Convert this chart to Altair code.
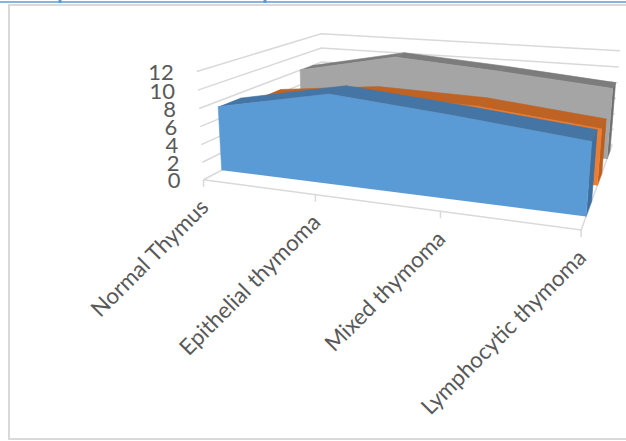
import altair as alt
import numpy as np
import pandas as pd

categories = ["Normal Thymus", "Epithelial thymoma", "Mixed thymoma", "Lymphocytic thymoma"]
blue_values = [7.4, 9.9, 8.8, 7.5]
orange_values = [6.5, 7.9, 7.6, 6.3]
gray_values = [8.0, 10.6, 9.7, 8.6]
value_ticks = [0, 2, 4, 6, 8, 10, 12]

BLUE_DEPTH = (0.12, 0.27)
ORANGE_DEPTH = (0.44, 0.59)
GRAY_DEPTH = (0.78, 0.90)

# Perspective camera: the eight corners of the chart box (category, depth, value) on screen.
box_points = [
    ((0, 0, 0), (204, 180)), ((3, 0, 0), (582, 229)),
    ((0, 1, 0), (322, 116)), ((3, 1, 0), (612, 146)),
    ((0, 0, 12), (196, 72)), ((3, 0, 12), (590, 103)),
    ((0, 1, 12), (322, 34)), ((3, 1, 12), (620, 50)),
]


def fit_camera(points):
    rows, rhs = [], []
    for (c, d, v), (sx, sy) in points:
        p = [c, d, v, 1]
        rows.append(p + [0, 0, 0, 0] + [-sx * c, -sx * d, -sx * v])
        rhs.append(sx)
        rows.append([0, 0, 0, 0] + p + [-sy * c, -sy * d, -sy * v])
        rhs.append(sy)
    m = np.linalg.lstsq(np.array(rows, float), np.array(rhs, float), rcond=None)[0]
    return np.append(m, 1.0).reshape(3, 4)


CAMERA = fit_camera(box_points)


def project(c, d, v):
    u = CAMERA @ np.array([c, d, v, 1.0])
    return u[0] / u[2], u[1] / u[2]


X = alt.X("sx:Q", scale=alt.Scale(domain=[0, 626], nice=False, zero=False), axis=None)
Y = alt.Y("sy:Q", scale=alt.Scale(domain=[441, 0], nice=False, zero=False), axis=None)


def frame(points):
    rows = [{"sx": p[0], "sy": p[1], "i": i} for i, p in enumerate(points)]
    return pd.DataFrame(rows)


def polygon(corners, color):
    df = frame([project(*c) for c in corners])
    return alt.Chart(df).mark_line(
        fill=color, stroke=color, strokeWidth=0.6, interpolate="linear"
    ).encode(x=X, y=Y, order="i:Q")


def polyline(corners, color="#D9D9D9", width=1.5):
    df = frame([project(*c) for c in corners])
    return alt.Chart(df).mark_line(color=color, strokeWidth=width).encode(x=X, y=Y, order="i:Q")


def screen_line(points, color, width):
    return alt.Chart(frame(points)).mark_line(color=color, strokeWidth=width).encode(x=X, y=Y, order="i:Q")


def ribbon(values, depth, front, top, side):
    d0, d1 = depth
    n = len(values)
    parts = [polygon([(n - 1, d0, 0), (n - 1, d1, 0), (n - 1, d1, values[-1]), (n - 1, d0, values[-1])], side)]
    for i in range(n - 1):
        parts.append(polygon([(i, d0, values[i]), (i + 1, d0, values[i + 1]),
                              (i + 1, d1, values[i + 1]), (i, d1, values[i])], top))
    outline = [(0, d0, 0)] + [(i, d0, v) for i, v in enumerate(values)] + [(n - 1, d0, 0)]
    parts.append(polygon(outline, front))
    return parts


layers = []

# Chart frame and the selection line along the top edge
layers.append(screen_line([(9, 440), (9, 5), (626, 5)], "#D9D9D9", 2))
layers.append(screen_line([(9, 439), (626, 439)], "#D9D9D9", 2))
layers.append(screen_line([(0, 2), (626, 2)], "#5B9BD5", 1.6))
for hx in (60, 265):
    layers.append(screen_line([(hx, 0), (hx, 3)], "#5B9BD5", 3))

# Walls and floor
for v in value_ticks:
    layers.append(polyline([(0, 0, v), (0, 1, v), (3, 1, v)]))
layers.append(polyline([(0, 0, 0), (3, 0, 0), (3, 1, 0)]))
for i in range(len(categories)):
    x0, y0 = project(i, 0, 0)
    layers.append(screen_line([(x0, y0), (x0, y0 + 7)], "#D9D9D9", 1.5))

# Series, painted back to front
layers += ribbon(gray_values, GRAY_DEPTH, "#A5A5A5", "#7C7C7C", "#6E6E6E")
layers += ribbon(orange_values, ORANGE_DEPTH, "#ED7D31", "#BE6324", "#B85F22")
layers += ribbon(blue_values, BLUE_DEPTH, "#5B9BD5", "#4475A5", "#3E6F9E")

# Value labels beside the left wall
value_df = pd.DataFrame([
    {"sx": project(0, 0, v)[0], "sy": project(0, 0, v)[1], "label": str(v)} for v in value_ticks
])
layers.append(alt.Chart(value_df).mark_text(
    font="Lato", fontSize=22, color="#595959", align="right", baseline="middle", dx=-23, dy=1.5
).encode(x=X, y=Y, text="label:N"))

# Slanted category labels ending under each tick
cat_df = pd.DataFrame([
    {"sx": project(i, 0, 0)[0], "sy": project(i, 0, 0)[1], "label": c} for i, c in enumerate(categories)
])
layers.append(alt.Chart(cat_df).mark_text(
    font="Lato", fontSize=22.4, color="#595959", align="right", baseline="middle",
    angle=315, dx=-16, dy=18
).encode(x=X, y=Y, text="label:N"))

chart = alt.layer(*layers).properties(
    width=626, height=441, padding=0, autosize=alt.AutoSizeParams(type="none"),
    background="white"
).configure_view(stroke=None)

chart.save("out.html", embed_options={"renderer": "svg", "actions": False})
